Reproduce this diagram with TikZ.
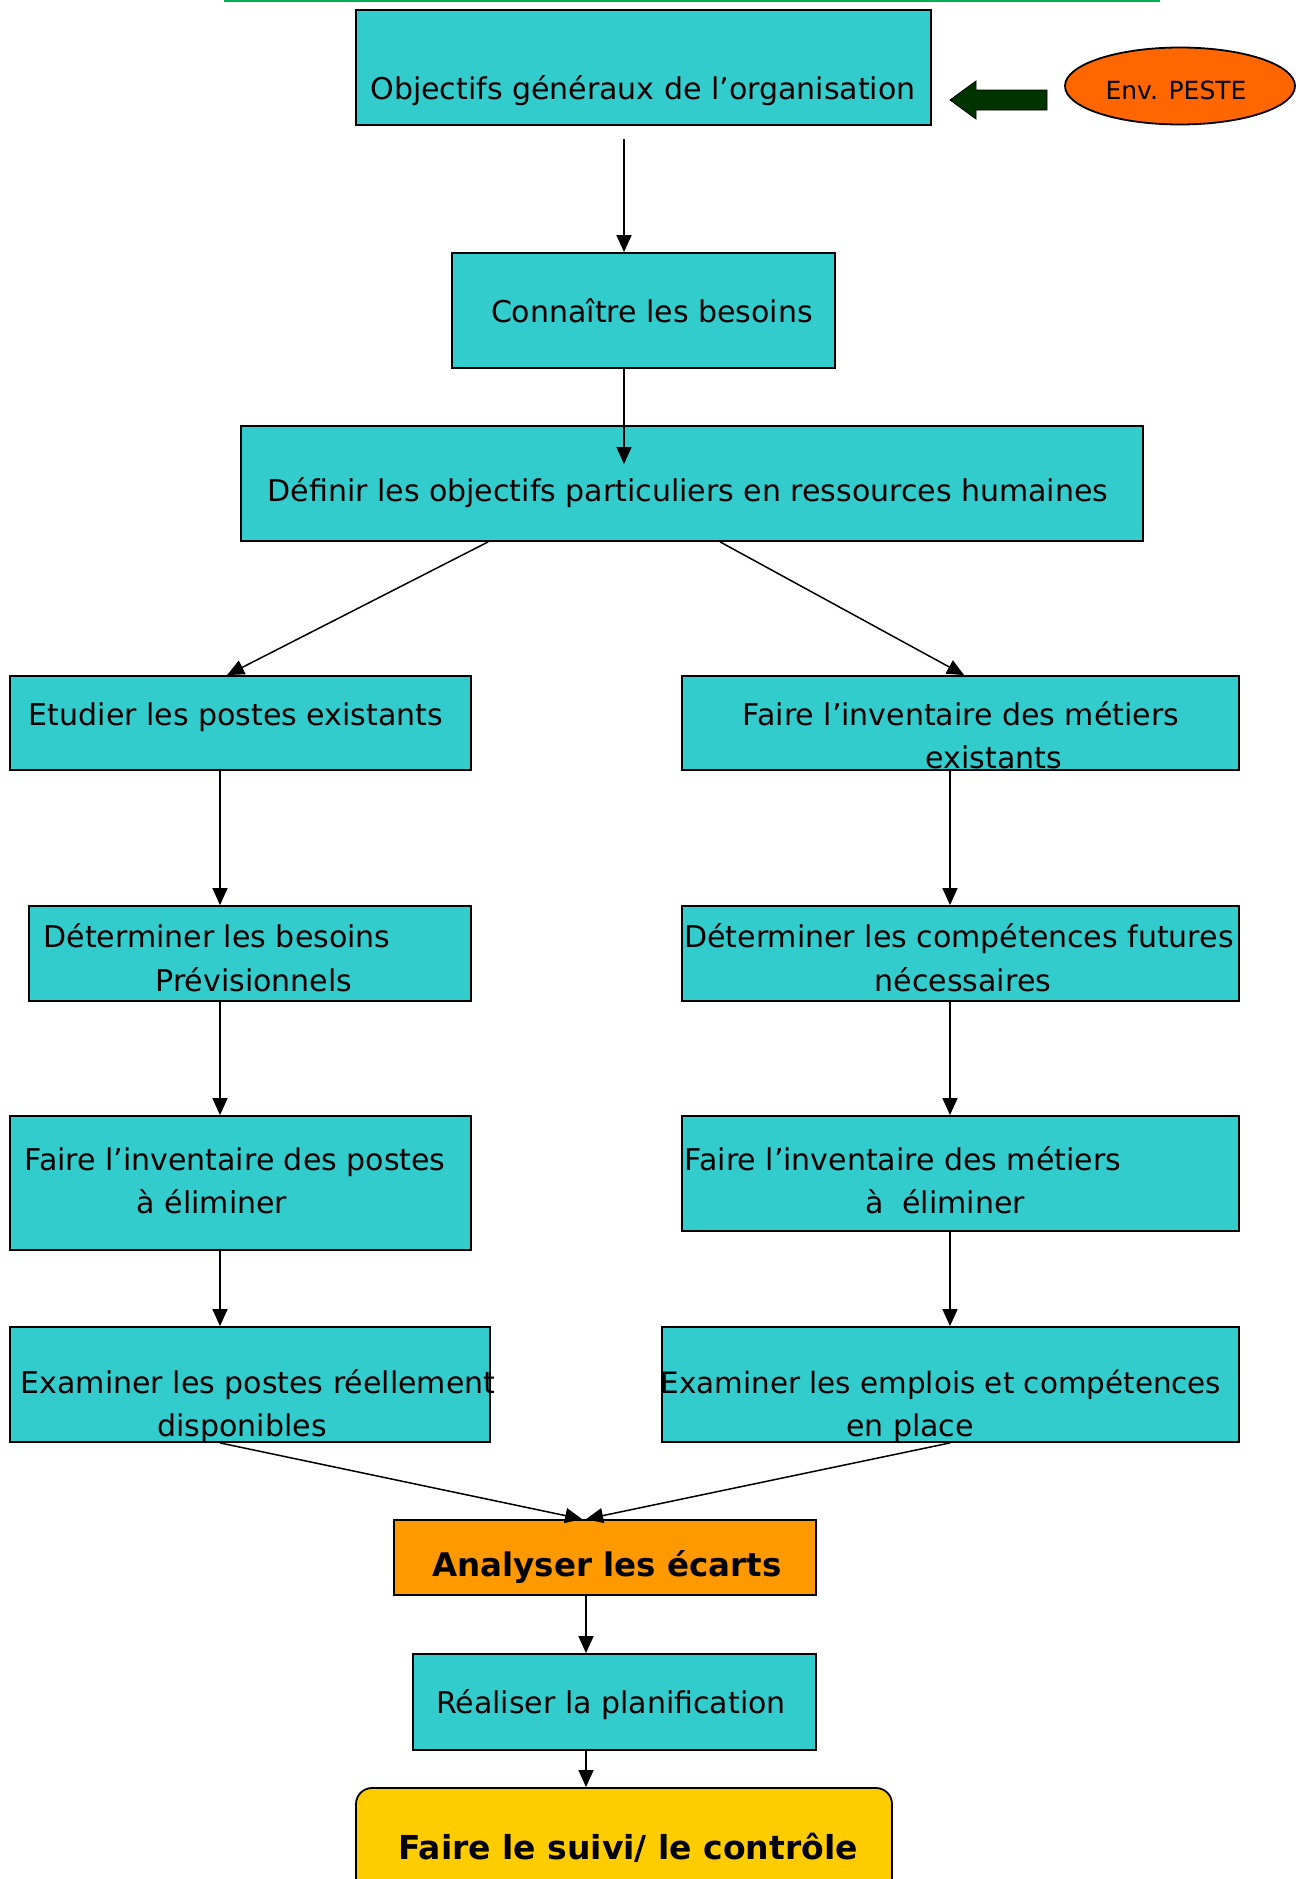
\documentclass[tikz,border=0pt]{standalone}
\usepackage{fontspec}
\setmainfont{DejaVu Sans}
\usetikzlibrary{arrows.meta,calc,shapes.geometric}
\definecolor{boxcyan}{HTML}{33CCCC}
\definecolor{boxorange}{HTML}{FF9900}
\definecolor{boxyellow}{HTML}{FFCC00}
\definecolor{envorange}{HTML}{FF6600}
\definecolor{topgreen}{HTML}{00B050}
\definecolor{darkgreen}{HTML}{003300}
\tikzset{
  stepbox/.style={draw=black,line width=1.8pt,fill=boxcyan,rectangle,inner sep=0pt},
  lbl/.style={anchor=mid,inner sep=0pt,font=\fontsize{30}{36}\selectfont},
  blbl/.style={anchor=mid,inner sep=0pt,font=\fontsize{32.5}{38}\selectfont\bfseries},
  arr/.style={draw=black,line width=1.5pt,-{Triangle[length=17pt,width=15pt]}},
}
\begin{document}
\begin{tikzpicture}[x=1pt,y=-1pt]
\clip (0,0) rectangle (1302,1879);
\fill[white] (0,0) rectangle (1302,1879);
\draw[topgreen,line width=2.5pt] (224,0.5) -- (1160,0.5);

% boxes
\node[stepbox,minimum width=575pt,minimum height=115pt] (obj) at (643.5,67.5) {};
\node[stepbox,minimum width=383pt,minimum height=115pt] (conn) at (643.5,310.5) {};
\node[stepbox,minimum width=902pt,minimum height=115pt] (def) at (692,483.5) {};
\node[stepbox,minimum width=461pt,minimum height=94pt] (etu) at (240.5,723) {};
\node[stepbox,minimum width=557pt,minimum height=94pt] (met) at (960.5,723) {};
\node[stepbox,minimum width=442pt,minimum height=95pt] (detb) at (250,953.5) {};
\node[stepbox,minimum width=557pt,minimum height=95pt] (detc) at (960.5,953.5) {};
\node[stepbox,minimum width=461pt,minimum height=134pt] (invp) at (240.5,1183) {};
\node[stepbox,minimum width=557pt,minimum height=115pt] (invm) at (960.5,1173.5) {};
\node[stepbox,minimum width=480pt,minimum height=115pt] (exp) at (250,1384.5) {};
\node[stepbox,minimum width=577pt,minimum height=115pt] (exe) at (950.5,1384.5) {};
\node[stepbox,fill=boxorange,minimum width=422pt,minimum height=75pt] (ana) at (605,1557.5) {};
\node[stepbox,minimum width=403pt,minimum height=96pt] (rea) at (614.5,1702) {};
\node[stepbox,fill=boxyellow,rounded corners=16pt,minimum width=536pt,minimum height=200pt] (suivi) at (624,1888) {};
\node[draw=black,line width=1.8pt,fill=envorange,ellipse,inner sep=0pt,minimum width=230pt,minimum height=77pt] (env) at (1180,86) {};

% texts
\node[lbl] (tobj) at (643,97) {Objectifs généraux de l’organisation};
\node[lbl] (tconn) at (652,320) {Connaître les besoins};
\node[lbl] (tdef) at (688,499) {Définir les objectifs particuliers en ressources humaines};
\node[lbl] (tetu) at (236,723) {Etudier les postes existants};
\node[lbl] (tmet1) at (961,723) {Faire l’inventaire des métiers};
\node[lbl] (tmet2) at (994,766) {existants};
\node[lbl] (tdetb1) at (217,945) {Déterminer les besoins};
\node[lbl] (tdetb2) at (254,989) {Prévisionnels};
\node[lbl] (tdetc1) at (959,945) {Déterminer les compétences futures};
\node[lbl] (tdetc2) at (963,989) {nécessaires};
\node[lbl] (tinvp1) at (235,1168) {Faire l’inventaire des postes};
\node[lbl] (tinvp2) at (212,1211) {à éliminer};
\node[lbl] (tinvm1) at (903,1168) {Faire l’inventaire des métiers};
\node[lbl] (tinvm2) at (945,1211) {à\ \ éliminer};
\node[lbl] (texp1) at (258,1391) {Examiner les postes réellement};
\node[lbl] (texp2) at (242,1434) {disponibles};
\node[lbl,font=\fontsize{29.4}{35}\selectfont] (texe1) at (941,1391) {Examiner les emplois et compétences};
\node[lbl] (texe2) at (910,1434) {en place};
\node[blbl] (tana) at (607,1574) {Analyser les écarts};
\node[lbl] (trea) at (611,1711) {Réaliser la planification};
\node[blbl,font=\fontsize{33}{39}\selectfont\bfseries] (tsuivi) at (628,1857) {Faire le suivi/ le contrôle};
\node[lbl,font=\fontsize{25}{30}\selectfont] (tenv) at (1176,97) {Env. PESTE};

% green arrow
\draw[black,line width=0.8pt,fill=darkgreen] (950,100) -- (976,81) -- (976,90) -- (1047,90) -- (1047,110) -- (976,110) -- (976,119) -- cycle;

% x positions for connectors
\coordinate (cx) at (624,0);
\coordinate (lx) at (220,0);
\coordinate (rx) at (950,0);
\coordinate (mx) at (586,0);
\coordinate (dtip) at (624,464);

% connectors
\draw[arr] ($(obj.south -| cx)+(0,13)$) -- (conn.north -| cx);
\draw[arr] (conn.south -| cx) -- (dtip);
\draw[arr] ($(def.south west)+(248,0)$) -- ($(etu.north west)+(218,0)$);
\draw[arr] ($(def.south west)+(480,0)$) -- ($(met.north west)+(283,0)$);
\draw[arr] (etu.south -| lx) -- (detb.north -| lx);
\draw[arr] (detb.south -| lx) -- (invp.north -| lx);
\draw[arr] (invp.south -| lx) -- (exp.north -| lx);
\draw[arr] (met.south -| rx) -- (detc.north -| rx);
\draw[arr] (detc.south -| rx) -- (invm.north -| rx);
\draw[arr] (invm.south -| rx) -- (exe.north -| rx);
\draw[arr] (exp.south -| lx) -- ($(ana.north west)+(189,0)$);
\draw[arr] (exe.south -| rx) -- ($(ana.north west)+(193,0)$);
\draw[arr] (ana.south -| mx) -- (rea.north -| mx);
\draw[arr] (rea.south -| mx) -- (suivi.north -| mx);
\end{tikzpicture}
\end{document}
